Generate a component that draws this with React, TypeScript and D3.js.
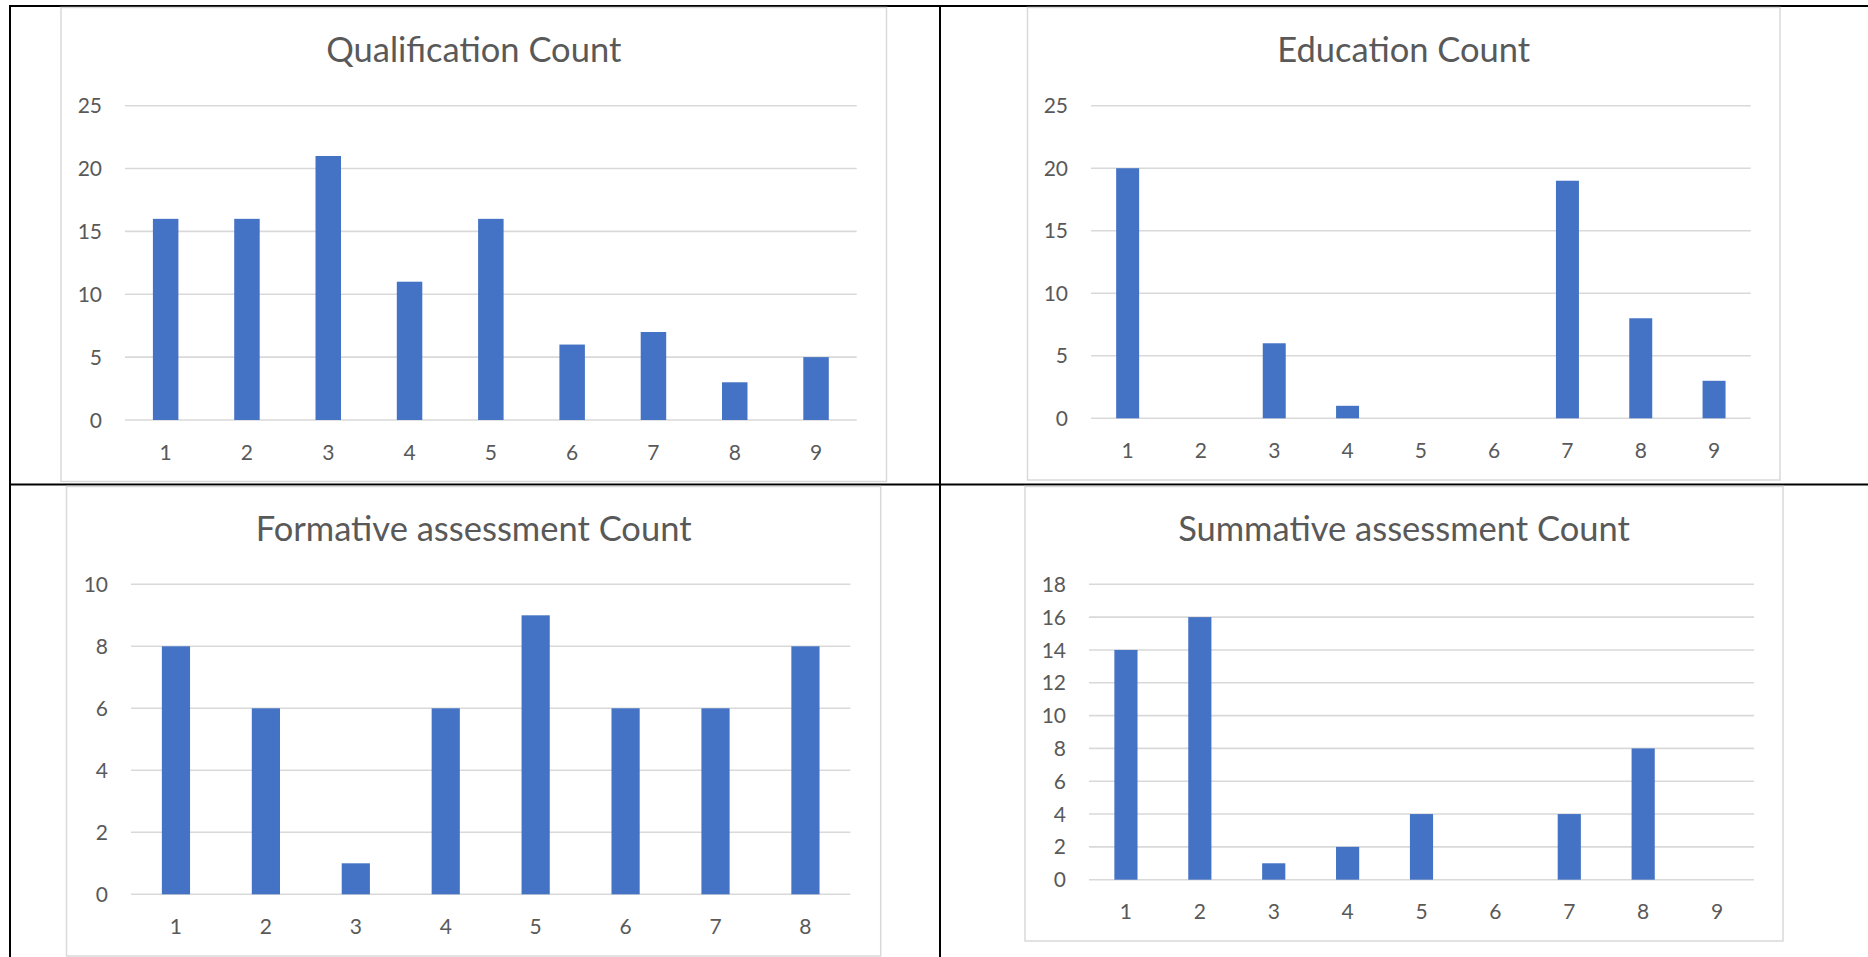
import React from 'react';
import * as d3 from 'd3';

// chart data
const qualificationCategories = ['1', '2', '3', '4', '5', '6', '7', '8', '9'];
const qualificationValues = [16, 16, 21, 11, 16, 6, 7, 3, 5];
const qualificationTicks = [0, 5, 10, 15, 20, 25];

const educationCategories = ['1', '2', '3', '4', '5', '6', '7', '8', '9'];
const educationValues = [20, 0, 6, 1, 0, 0, 19, 8, 3];
const educationTicks = [0, 5, 10, 15, 20, 25];

const formativeCategories = ['1', '2', '3', '4', '5', '6', '7', '8'];
const formativeValues = [8, 6, 1, 6, 9, 6, 6, 8];
const formativeTicks = [0, 2, 4, 6, 8, 10];

const summativeCategories = ['1', '2', '3', '4', '5', '6', '7', '8', '9'];
const summativeValues = [14, 16, 1, 2, 4, 0, 4, 8, 0];
const summativeTicks = [0, 2, 4, 6, 8, 10, 12, 14, 16, 18];

const BAR_COLOR = '#4472C4';
const GRID_COLOR = '#d9d9d9';
const TEXT_COLOR = '#595959';
const FONT = 'Lato, "Open Sans", sans-serif';

interface PanelProps {
  title: string;
  categories: string[];
  values: number[];
  ticks: number[];
  box: { x0: number; y0: number; x1: number; y1: number };
  plot: { x0: number; x1: number; top: number; bottom: number };
  titleY: number;
}

const BarPanel: React.FC<PanelProps> = ({ title, categories, values, ticks, box, plot, titleY }) => {
  const xScale = d3.scaleBand<string>().domain(categories).range([plot.x0, plot.x1]).padding(0);
  const yScale = d3
    .scaleLinear()
    .domain([0, d3.max(ticks) || 0])
    .range([plot.bottom, plot.top]);

  // Excel default gap width 219%
  const barWidth = xScale.bandwidth() / 3.19;

  return (
    <g>
      <rect
        x={box.x0}
        y={box.y0}
        width={box.x1 - box.x0}
        height={box.y1 - box.y0}
        fill="#ffffff"
        stroke={GRID_COLOR}
        strokeWidth={1.5}
      />
      <text
        x={(box.x0 + box.x1) / 2}
        y={titleY}
        textAnchor="middle"
        fontFamily={FONT}
        fontSize={34.5}
        fill={TEXT_COLOR}
      >
        {title}
      </text>

      {/* gridlines + y labels */}
      {ticks.map(t => (
        <g key={t}>
          <line x1={plot.x0} x2={plot.x1} y1={yScale(t)} y2={yScale(t)} stroke={GRID_COLOR} strokeWidth={1.6} />
          <text
            x={plot.x0 - 23}
            y={yScale(t)}
            dy="0.36em"
            textAnchor="end"
            fontFamily={FONT}
            fontSize={21}
            fill={TEXT_COLOR}
          >
            {t}
          </text>
        </g>
      ))}

      {/* bars */}
      {categories.map((c, i) => {
        const cx = (xScale(c) || 0) + xScale.bandwidth() / 2;
        const v = values[i];
        if (!v) return null;
        return (
          <rect
            key={c}
            x={cx - barWidth / 2}
            y={yScale(v)}
            width={barWidth}
            height={yScale(0) - yScale(v)}
            fill={BAR_COLOR}
          />
        );
      })}

      {/* x labels */}
      {categories.map(c => (
        <text
          key={'x' + c}
          x={(xScale(c) || 0) + xScale.bandwidth() / 2}
          y={plot.bottom + 32}
          dy="0.36em"
          textAnchor="middle"
          fontFamily={FONT}
          fontSize={21}
          fill={TEXT_COLOR}
        >
          {c}
        </text>
      ))}
    </g>
  );
};

const App: React.FC = () => {
  const width = 1868;
  const height = 957;

  return (
    <svg
      width={width}
      height={height}
      style={{ position: 'absolute', left: 0, top: 0, background: '#ffffff' }}
    >
      <rect x={0} y={0} width={width} height={height} fill="#ffffff" />

      {/* table cell borders */}
      <line x1={9} x2={width} y1={6} y2={6} stroke="#000" strokeWidth={2} />
      <line x1={9} x2={width} y1={484.5} y2={484.5} stroke="#000" strokeWidth={2} />
      <line x1={10} x2={10} y1={5} y2={height} stroke="#000" strokeWidth={2} />
      <line x1={940} x2={940} y1={5} y2={height} stroke="#000" strokeWidth={2} />

      <BarPanel
        title="Qualification Count"
        categories={qualificationCategories}
        values={qualificationValues}
        ticks={qualificationTicks}
        box={{ x0: 61, y0: 7.5, x1: 886.5, y1: 481.5 }}
        plot={{ x0: 125, x1: 856.7, top: 105.7, bottom: 420 }}
        titleY={61.7}
      />
      <BarPanel
        title="Education Count"
        categories={educationCategories}
        values={educationValues}
        ticks={educationTicks}
        box={{ x0: 1027.5, y0: 7.5, x1: 1780, y1: 480 }}
        plot={{ x0: 1091, x1: 1750.7, top: 105.7, bottom: 418.3 }}
        titleY={61.7}
      />
      <BarPanel
        title="Formative assessment Count"
        categories={formativeCategories}
        values={formativeValues}
        ticks={formativeTicks}
        box={{ x0: 66.5, y0: 486.5, x1: 880.7, y1: 956 }}
        plot={{ x0: 131, x1: 850.4, top: 584.3, bottom: 894.3 }}
        titleY={540.7}
      />
      <BarPanel
        title="Summative assessment Count"
        categories={summativeCategories}
        values={summativeValues}
        ticks={summativeTicks}
        box={{ x0: 1025, y0: 486.5, x1: 1783, y1: 941 }}
        plot={{ x0: 1089, x1: 1754, top: 584.3, bottom: 879.7 }}
        titleY={540.7}
      />
    </svg>
  );
};

export default App;
